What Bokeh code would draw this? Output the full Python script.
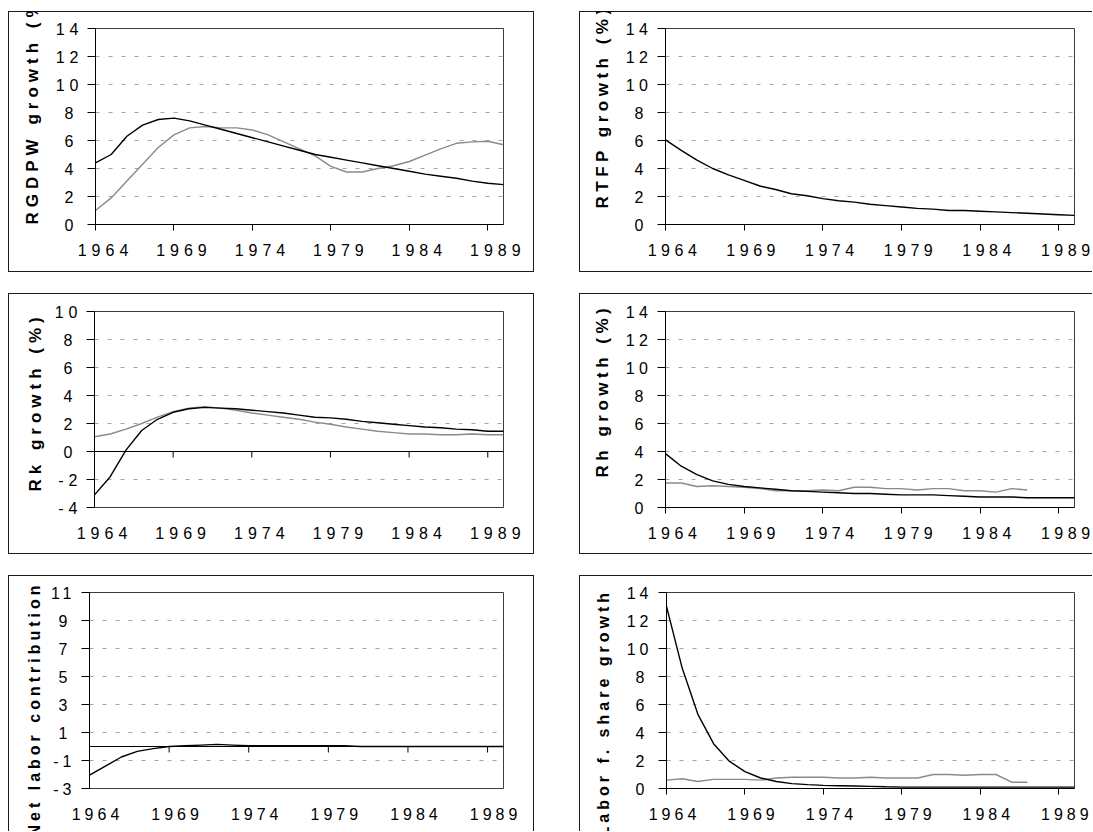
from bokeh.plotting import figure
from bokeh.layouts import column, row
from bokeh.models import FixedTicker, Range1d, Span, Spacer, ColumnDataSource, Title
from bokeh.embed import file_html
from bokeh.resources import INLINE

NaN = float("nan")

years = list(range(1964, 1991))
x_ticks = [1964, 1969, 1974, 1979, 1984, 1989]

# Panel 1: RGDPW growth
rgdpw_model = [4.4, 5.0, 6.3, 7.1, 7.5, 7.6, 7.4, 7.1, 6.8, 6.5, 6.2, 5.9, 5.6, 5.3,
               5.0, 4.8, 4.6, 4.4, 4.2, 4.0, 3.8, 3.6, 3.45, 3.3, 3.1, 2.95, 2.85]
rgdpw_actual = [1.0, 1.9, 3.1, 4.3, 5.5, 6.4, 6.9, 7.0, 6.9, 6.9, 6.75, 6.4, 5.9, 5.4,
                4.9, 4.15, 3.75, 3.75, 4.0, 4.2, 4.5, 4.95, 5.4, 5.8, 5.9, 5.95, 5.7]
# Panel 2: RTFP growth
rtfp_model = [6.05, 5.3, 4.6, 4.0, 3.55, 3.15, 2.75, 2.5, 2.2, 2.05, 1.85, 1.7, 1.6, 1.45,
              1.35, 1.25, 1.15, 1.1, 1.0, 1.0, 0.95, 0.9, 0.85, 0.8, 0.75, 0.7, 0.65]
# Panel 3: Rk growth
rk_model = [-3.1, -1.8, 0.1, 1.5, 2.3, 2.8, 3.05, 3.15, 3.1, 3.05, 2.95, 2.85, 2.75, 2.6,
            2.45, 2.4, 2.3, 2.15, 2.05, 1.95, 1.85, 1.75, 1.7, 1.6, 1.55, 1.45, 1.45]
rk_actual = [1.05, 1.25, 1.6, 2.0, 2.45, 2.85, 3.1, 3.2, 3.1, 2.95, 2.75, 2.6, 2.45, 2.3,
             2.1, 1.95, 1.75, 1.6, 1.45, 1.35, 1.25, 1.25, 1.2, 1.2, 1.25, 1.2, 1.2]
# Panel 4: Rh growth
rh_model = [3.85, 2.95, 2.35, 1.9, 1.65, 1.5, 1.4, 1.3, 1.2, 1.15, 1.1, 1.05, 1.0, 1.0,
            0.95, 0.9, 0.9, 0.9, 0.85, 0.8, 0.75, 0.75, 0.75, 0.7, 0.7, 0.7, 0.7]
rh_actual = [1.75, 1.75, 1.5, 1.55, 1.5, 1.45, 1.35, 1.2, 1.2, 1.2, 1.25, 1.2, 1.45, 1.45,
             1.35, 1.35, 1.25, 1.35, 1.35, 1.2, 1.2, 1.1, 1.35, 1.25, NaN, NaN, NaN]
# Panel 5: Net labor contribution
net_labor = [-2.05, -1.4, -0.75, -0.35, -0.15, 0.0, 0.05, 0.1, 0.15, 0.1, 0.05, 0.05, 0.05, 0.05,
             0.05, 0.05, 0.05, 0.0, 0.0, 0.0, 0.0, 0.0, 0.0, 0.0, 0.0, 0.0, 0.0]
# Panel 6: Labor force share growth
lfs_model = [13.0, 8.6, 5.3, 3.2, 1.95, 1.2, 0.75, 0.5, 0.35, 0.28, 0.22, 0.2, 0.18, 0.15,
             0.12, 0.1, 0.1, 0.1, 0.1, 0.1, 0.1, 0.1, 0.1, 0.1, 0.1, 0.1, 0.1]
lfs_actual = [0.6, 0.7, 0.5, 0.65, 0.65, 0.65, 0.6, 0.75, 0.8, 0.8, 0.8, 0.75, 0.75, 0.8,
              0.75, 0.75, 0.75, 1.0, 1.0, 0.95, 1.0, 1.0, 0.45, 0.45, NaN, NaN, NaN]

y_ticks_even = [0, 2, 4, 6, 8, 10, 12, 14]
y_ticks_rk = [-4, -2, 0, 2, 4, 6, 8, 10]
y_ticks_net = [-3, -1, 1, 3, 5, 7, 9, 11]

FONT = "Liberation Sans"
BLACK = "#000000"
GRAY = "#8a8a8a"
FRAME = "#1a1a1a"


def panel(ylabel, black, gray, y_lo, y_hi, yticks, w, h, mleft, mright, mtop, mbottom,
          title_size, title_standoff, title_offset, spacing, right_col, bottom_row):
    shadows = ["inset 1px 1px 0 0 %s" % FRAME]
    if not right_col:
        shadows.append("inset -1px 0 0 0 %s" % FRAME)
    if not bottom_row:
        shadows.append("inset 0 -1px 0 0 %s" % FRAME)
    styles = {"box-shadow": ", ".join(shadows), "letter-spacing": spacing}
    p = figure(width=w, height=h, x_range=Range1d(years[0], years[-1]),
               y_range=Range1d(y_lo, y_hi), output_backend="svg",
               toolbar_location=None, tools="", min_border_left=mleft,
               min_border_right=mright, min_border_top=mtop, min_border_bottom=mbottom,
               styles=styles)
    p.outline_line_color = "#3c3c3c"
    p.outline_line_width = 1
    p.background_fill_color = "white"
    p.border_fill_color = "white"
    p.border_fill_alpha = 0.0

    p.xgrid.visible = False
    p.ygrid.ticker = FixedTicker(ticks=yticks)
    p.ygrid.grid_line_color = "#a6a6a6"
    p.ygrid.grid_line_dash = "4 9"
    p.ygrid.grid_line_width = 1

    xa = p.xaxis[0]
    xa.ticker = FixedTicker(ticks=x_ticks)
    xa.major_label_text_font = FONT
    xa.major_label_text_font_size = "16px"
    xa.major_label_text_color = BLACK
    xa.major_label_standoff = 13
    xa.minor_tick_line_color = None
    xa.major_tick_in = 0
    xa.major_tick_out = 6
    xa.axis_line_color = BLACK if y_lo == 0 else None
    xa.major_tick_line_color = BLACK if y_lo == 0 else None

    ya = p.yaxis[0]
    ya.ticker = FixedTicker(ticks=yticks)
    ya.major_label_overrides = {t: str(t) for t in yticks if t < 0}  # plain hyphen minus
    ya.major_label_text_font = FONT
    ya.major_label_text_font_size = "16px"
    ya.major_label_text_color = BLACK
    ya.major_label_standoff = 14
    ya.minor_tick_line_color = None
    ya.major_tick_in = 0
    ya.major_tick_out = 8
    ya.axis_line_color = BLACK
    ya.major_tick_line_color = BLACK

    # vertical axis title, starting near the bottom like the original (runs off the chart box)
    p.add_layout(Title(text=ylabel, align="left", offset=title_offset,
                       standoff=title_standoff, text_font=FONT, text_font_size=title_size,
                       text_font_style="bold", text_color=BLACK), "left")

    if y_lo != 0:
        # category axis crossing at zero, ticks pointing down
        p.add_layout(Span(location=0, dimension="width", line_color=BLACK, line_width=1))
        tick_len = (y_hi - y_lo) * 6.0 / 196.0
        src = ColumnDataSource(dict(x=x_ticks[1:], y0=[0] * 5, y1=[-tick_len] * 5))
        p.segment(x0="x", x1="x", y0="y0", y1="y1", source=src, line_color=BLACK, line_width=1)

    if gray is not None:
        p.line(years, gray, line_color=GRAY, line_width=1.4)
    p.line(years, black, line_color=BLACK, line_width=1.4)
    return p


LW, RW = 526, 513
H12, H3 = 261, 256

p1 = panel("RGDPW growth (%)", rgdpw_model, rgdpw_actual, 0, 14, y_ticks_even,
           LW, H12, 87, 31, 16, 48, "17px", 22, 0, "5px", False, False)
p2 = panel("RTFP growth (%)", rtfp_model, None, 0, 14, y_ticks_even,
           RW, H12, 86, 18, 17, 47, "17px", 22, 16, "4.5px", True, False)
p3 = panel("Rk growth (%)", rk_model, rk_actual, -4, 10, y_ticks_rk,
           LW, H12, 86, 31, 17, 47, "17px", 14, 16, "5px", False, False)
p4 = panel("Rh growth (%)", rh_model, rh_actual, 0, 14, y_ticks_even,
           RW, H12, 86, 18, 18, 47, "17px", 22, 30, "4.5px", True, False)
p5 = panel("Net labor contribution", net_labor, None, -3, 11, y_ticks_net,
           LW, H3, 81, 31, 17, 43, "16px", 10, -48, "4px", False, True)
p6 = panel("Labor f. share growth", lfs_model, lfs_actual, 0, 14, y_ticks_even,
           RW, H3, 87, 18, 17, 43, "16px", 23, -48, "4px", True, True)

layout = column(
    Spacer(height=11),
    row(Spacer(width=8), p1, Spacer(width=45), p2),
    Spacer(height=21),
    row(Spacer(width=8), p3, Spacer(width=45), p4),
    Spacer(height=21),
    row(Spacer(width=8), p5, Spacer(width=45), p6),
)

open("out.html", "w").write(file_html(layout, INLINE))
